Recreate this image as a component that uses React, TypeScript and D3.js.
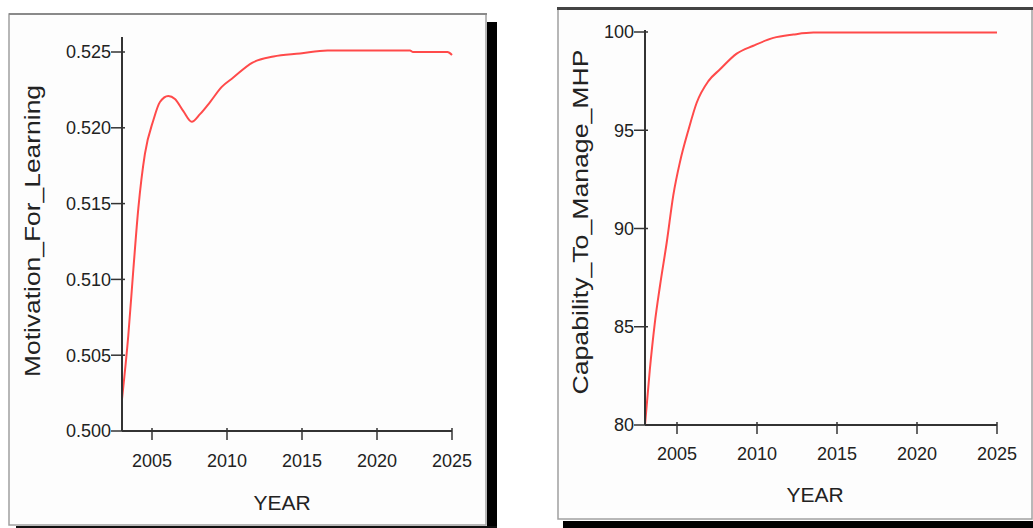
import React from "react";
import * as d3 from "d3";

// ---- Data ----
const motivationYears = [2003.0, 2003.42, 2003.76, 2004.09, 2004.53, 2005.09, 2005.53, 2006.09, 2006.53, 2007.09, 2007.65, 2008.2, 2008.87, 2009.65, 2010.4, 2011.7, 2013.1, 2014.87, 2016.7, 2022.2, 2022.4, 2024.7, 2025.0];
const motivationValues = [0.5021, 0.5063, 0.5107, 0.5147, 0.5183, 0.5205, 0.5217, 0.5221, 0.5219, 0.5211, 0.5204, 0.5209, 0.5217, 0.5227, 0.5233, 0.5243, 0.5247, 0.5249, 0.5251, 0.5251, 0.5250, 0.5250, 0.5248];

const capabilityYears = [2003.0, 2003.3, 2003.6, 2003.94, 2004.36, 2004.77, 2005.19, 2005.71, 2006.23, 2006.96, 2007.69, 2008.73, 2009.77, 2011.02, 2012.27, 2013.52, 2025.0];
const capabilityValues = [80.0, 82.8, 85.1, 87.1, 89.3, 91.7, 93.4, 95.0, 96.4, 97.5, 98.1, 98.9, 99.3, 99.7, 99.87, 99.97, 99.97];

const yearTicks = [2005, 2010, 2015, 2020, 2025];
const motivationTicks = [0.5, 0.505, 0.51, 0.515, 0.52, 0.525];
const capabilityTicks = [80, 85, 90, 95, 100];

const FONT = "'Liberation Sans', Arial, sans-serif";
const AXIS = "#333";
const TEXT = "#222";
const RED = "#ff4a4a";

type PanelProps = {
  years: number[];
  values: number[];
  yTicks: number[];
  yFormat: (v: number) => string;
  xDomain: [number, number];
  xRange: [number, number];
  yDomain: [number, number];
  yRange: [number, number];
  startYear: number;
  axisTop: number;
  yLabel: string;
  yLabelX: number;
  yLabelY: number;
  yLabelLen: number;
  yearX: number;
  yearY: number;
  xLabelOffset: number;
};

function Panel(p: PanelProps) {
  const x = d3.scaleLinear().domain(p.xDomain).range(p.xRange);
  const y = d3.scaleLinear().domain(p.yDomain).range(p.yRange);
  const x0 = x(p.startYear);
  const y0 = y(p.yDomain[0]);
  const xEnd = x(2025);
  const pts = p.years.map((yr, i) => [x(yr), y(p.values[i])] as [number, number]);
  const line = d3.line().curve(d3.curveMonotoneX)(pts) || "";
  return (
    <g>
      <path d={line} fill="none" stroke={RED} strokeWidth={2} />
      <line x1={x0} x2={x0} y1={p.axisTop} y2={y0} stroke={AXIS} strokeWidth={2} />
      <line x1={x0} x2={xEnd} y1={y0} y2={y0} stroke={AXIS} strokeWidth={2} />
      {p.yTicks.map((t) => (
        <g key={"y" + t}>
          <line x1={x0 - 11} x2={x0 + 3} y1={y(t)} y2={y(t)} stroke={AXIS} strokeWidth={1.5} />
          <text x={x0 - 11} y={y(t)} dy="0.35em" textAnchor="end" fontSize={18} fontFamily={FONT} fill={TEXT}>
            {p.yFormat(t)}
          </text>
        </g>
      ))}
      {yearTicks.map((t) => (
        <g key={"x" + t}>
          <line x1={x(t)} x2={x(t)} y1={y0 - 3} y2={y0 + 9} stroke={AXIS} strokeWidth={1.5} />
          <text x={x(t)} y={y0 + p.xLabelOffset} dy="0.35em" textAnchor="middle" fontSize={18} fontFamily={FONT} fill={TEXT}>
            {t}
          </text>
        </g>
      ))}
      <text x={p.yearX} y={p.yearY} textAnchor="middle" fontSize={21} fontFamily={FONT} fill={TEXT}>
        YEAR
      </text>
      <text
        transform={`translate(${p.yLabelX},${p.yLabelY}) rotate(-90)`}
        textAnchor="middle"
        dy="0.35em"
        fontSize={22}
        fontFamily={FONT}
        fill={TEXT}
        textLength={p.yLabelLen}
        lengthAdjust="spacingAndGlyphs"
      >
        {p.yLabel}
      </text>
    </g>
  );
}

export default function App() {
  return (
    <svg width={1033} height={528} style={{ position: "absolute", left: 0, top: 0, background: "#fff" }}>
      {/* Left frame */}
      <rect x={487} y={22} width={10} height={506} fill="#000" />
      <rect x={16} y={526} width={481} height={2} fill="#111" />
      <rect x={9} y={14} width={477} height={511} fill="#fdfdfd" stroke="#a0a0a0" strokeWidth={1.5} />
      <line x1={9} x2={487} y1={14} y2={14} stroke="#8a8a8a" strokeWidth={2} />
      {/* Right frame */}
      <rect x={563} y={521} width={470} height={7} fill="#000" />
      <rect x={558} y={8} width={474} height={511} fill="#fdfdfd" stroke="#a0a0a0" strokeWidth={1.5} />
      <line x1={557} x2={1033} y1={8.5} y2={8.5} stroke="#444" strokeWidth={3} />

      <Panel
        years={motivationYears}
        values={motivationValues}
        yTicks={motivationTicks}
        yFormat={d3.format(".3f")}
        xDomain={[2005, 2025]}
        xRange={[152, 452]}
        yDomain={[0.5, 0.525]}
        yRange={[431, 52]}
        startYear={2003}
        axisTop={37}
        yLabel="Motivation_For_Learning"
        yLabelX={32}
        yLabelY={231}
        yLabelLen={292}
        yearX={282}
        yearY={510}
        xLabelOffset={30}
      />
      <Panel
        years={capabilityYears}
        values={capabilityValues}
        yTicks={capabilityTicks}
        yFormat={d3.format("d")}
        xDomain={[2005, 2025]}
        xRange={[677, 997]}
        yDomain={[80, 100]}
        yRange={[425, 32]}
        startYear={2003}
        axisTop={30}
        yLabel="Capability_To_Manage_MHP"
        yLabelX={580}
        yLabelY={222}
        yLabelLen={345}
        yearX={815}
        yearY={502}
        xLabelOffset={29}
      />
    </svg>
  );
}
